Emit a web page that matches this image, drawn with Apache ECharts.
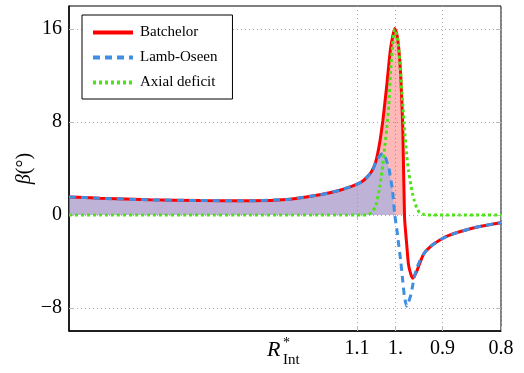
<!DOCTYPE html>
<html>
<head>
<meta charset="utf-8">
<script src="https://cdn.jsdelivr.net/npm/echarts@6/dist/echarts.min.js"></script>
<style>
  html, body { margin: 0; padding: 0; background: #fff; }
  #chart { width: 524px; height: 373px; }
</style>
</head>
<body>
<div id="chart"></div>
<script>
// R*_Int samples (the axis runs in 1/R, so R decreases to the right)
const rInt = [4.417, 3.336, 2.392, 1.864, 1.527, 1.334, 1.219, 1.152, 1.107, 1.087,
  1.071, 1.060, 1.049, 1.039, 1.031, 1.026, 1.021, 1.016, 1.012, 1.007,
  1.002, 0.997, 0.993, 0.988, 0.983, 0.979, 0.974, 0.970, 0.965, 0.961,
  0.957, 0.952, 0.946, 0.938, 0.929, 0.917, 0.892, 0.868, 0.834, 0.800];

const batchelor = [1.55, 1.44, 1.30, 1.24, 1.22, 1.36, 1.73, 2.13, 2.57, 2.85,
  3.3, 3.75, 4.6, 6.2, 8.1, 9.6, 11.2, 13.0, 14.3, 15.3,
  16.06, 15.6, 14.6, 12.2, 7.5, -0.2, -2.6, -4.3, -5.1, -5.45,
  -5.25, -4.85, -4.2, -3.4, -2.95, -2.5, -1.85, -1.45, -1.0, -0.67];

const lambOseen = [1.55, 1.44, 1.30, 1.24, 1.22, 1.36, 1.73, 2.13, 2.57, 2.85,
  3.3, 3.7, 4.5, 5.1, 5.3, 5.1, 4.6, 4.1, 3.2, 2.1,
  0.1, -1.2, -2.4, -3.9, -5.7, -7.1, -7.85, -7.5, -6.9, -6.1,
  -5.3, -4.6, -4.0, -3.4, -2.95, -2.5, -1.85, -1.45, -1.0, -0.67];

const axialDeficit = [0, 0, 0, 0, 0, 0, 0, 0, 0, 0,
  0, 0.2, 0.8, 2.4, 4.3, 5.9, 7.5, 9.5, 12.2, 14.6,
  16.0, 15.5, 14.6, 12.2, 9.5, 7.3, 5.1, 3.8, 2.6, 1.8,
  1.2, 0.6, 0.2, 0.05, 0, 0, 0, 0, 0, 0];

const xTickValues = [1.1, 1.0, 0.9, 0.8];
const xTickLabels = ['1.1', '1.', '0.9', '0.8'];
const yTickValues = [-8, 0, 8, 16];
const yTickLabels = ['\u22128', '0', '8', '16'];

const rLeft = 4.417;
const rRight = 0.8;

const FONT = "'Liberation Serif', 'DejaVu Serif', serif";

const toPairs = arr => rInt.map((r, i) => [1 / r, arr[i]]);
const positive = arr => rInt.map((r, i) => [1 / r, Math.max(arr[i], 0)]);

const xTicks = xTickValues.map(r => 1 / r);
const labelFor = (values, labels) => v => {
  let best = 0;
  values.forEach((t, i) => { if (Math.abs(t - v) < Math.abs(values[best] - v)) best = i; });
  return labels[best];
};

const SMOOTH = 0.2;

const chart = echarts.init(document.getElementById('chart'));
chart.setOption({
  animation: false,
  grid: {
    left: 69, right: 23, top: 6, bottom: 42,
    show: true, borderColor: '#000', borderWidth: 1
  },
  legend: {
    data: ['Batchelor', 'Lamb-Oseen', 'Axial deficit'],
    orient: 'vertical',
    left: 82, top: 15,
    padding: [10, 15, 9, 9],
    itemGap: 10,
    itemWidth: 40,
    itemHeight: 14,
    itemStyle: { opacity: 0 },
    lineStyle: { width: 4 },
    backgroundColor: '#fff',
    borderColor: '#000',
    borderWidth: 1,
    borderRadius: 0,
    textStyle: { fontFamily: FONT, fontSize: 15, color: '#000', padding: [0, 0, 0, 2] }
  },
  xAxis: [{
    type: 'value',
    min: 1 / rLeft,
    max: 1 / rRight,
    axisLine: { show: true, onZero: false, lineStyle: { color: '#000', width: 1.5 } },
    axisTick: { show: true, inside: true, length: 5, customValues: xTicks, lineStyle: { color: '#bbb' } },
    axisLabel: {
      customValues: xTicks,
      formatter: labelFor(xTicks, xTickLabels),
      fontFamily: FONT, fontSize: 20, color: '#000', margin: 8
    },
    splitLine: { show: true, lineStyle: { color: '#aaa', type: [1, 3] } }
  }, {
    type: 'value',
    position: 'top',
    min: 1 / rLeft,
    max: 1 / rRight,
    axisLine: { show: false },
    axisTick: { show: true, inside: true, length: 5, customValues: xTicks, lineStyle: { color: '#bbb' } },
    axisLabel: { show: false },
    splitLine: { show: false }
  }],
  yAxis: [{
    type: 'value',
    min: -10,
    max: 18,
    name: '{i|\u03B2}(\u00B0)',
    nameLocation: 'middle',
    nameGap: 34,
    nameMoveOverlap: false,
    nameTextStyle: {
      fontFamily: FONT, fontSize: 20, color: '#000',
      rich: { i: { fontFamily: FONT, fontSize: 20, fontStyle: 'italic', color: '#000' } }
    },
    axisLine: { show: true, onZero: false, lineStyle: { color: '#000', width: 1.5 } },
    axisTick: { show: true, inside: true, length: 5, customValues: yTickValues, lineStyle: { color: '#bbb' } },
    axisLabel: {
      customValues: yTickValues,
      formatter: labelFor(yTickValues, yTickLabels),
      fontFamily: FONT, fontSize: 20, color: '#000', margin: 7
    },
    splitLine: { show: true, lineStyle: { color: '#aaa', type: [1, 3] } }
  }, {
    type: 'value',
    position: 'right',
    min: -10,
    max: 18,
    axisLine: { show: false },
    axisTick: { show: true, inside: true, length: 5, customValues: yTickValues, lineStyle: { color: '#bbb' } },
    axisLabel: { show: false },
    splitLine: { show: false }
  }],
  graphic: [
    { type: 'text', left: 267, top: 339, style: { text: 'R', font: 'italic 22px ' + FONT, fill: '#000' } },
    { type: 'text', left: 283, top: 336, style: { text: '*', font: '14px ' + FONT, fill: '#000' } },
    { type: 'text', left: 283, top: 353, style: { text: 'Int', font: '15px ' + FONT, fill: '#000' } }
  ],
  series: [{
    name: 'fillBatchelor',
    type: 'line',
    data: positive(batchelor),
    symbol: 'none',
    silent: true,
    smooth: SMOOTH,
    lineStyle: { width: 0 },
    areaStyle: { color: '#ff0000', opacity: 0.28 },
    z: 1
  }, {
    name: 'fillLambOseen',
    type: 'line',
    data: positive(lambOseen),
    symbol: 'none',
    silent: true,
    smooth: SMOOTH,
    lineStyle: { width: 0 },
    areaStyle: { color: 'rgb(125,172,244)', opacity: 0.5 },
    z: 1
  }, {
    name: 'Batchelor',
    type: 'line',
    data: toPairs(batchelor),
    symbol: 'none',
    smooth: SMOOTH,
    color: '#ff0000',
    lineStyle: { color: '#ff0000', width: 3 },
    z: 3
  }, {
    name: 'Lamb-Oseen',
    type: 'line',
    data: toPairs(lambOseen),
    symbol: 'none',
    smooth: SMOOTH,
    color: '#3d8fe3',
    lineStyle: { color: '#3d8fe3', width: 3, type: [7, 5] },
    z: 4
  }, {
    name: 'Axial deficit',
    type: 'line',
    data: toPairs(axialDeficit),
    symbol: 'none',
    smooth: SMOOTH,
    color: '#4ee21a',
    lineStyle: { color: '#4ee21a', width: 3, type: [3, 3] },
    z: 5
  }]
});
</script>
</body>
</html>
